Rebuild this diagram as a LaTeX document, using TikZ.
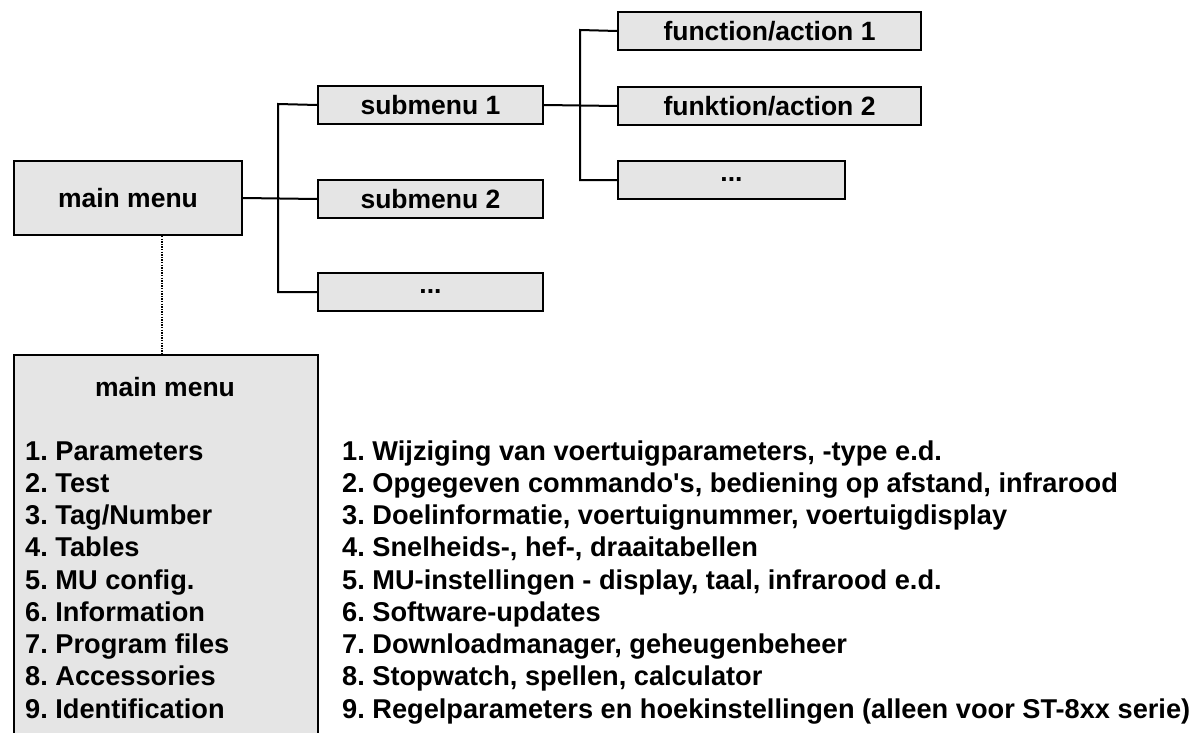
\documentclass[tikz,border=0pt]{standalone}
\usepackage{fontspec}
\setmainfont{Liberation Sans}[Ligatures=TeXOff]
\frenchspacing
\definecolor{boxgray}{HTML}{E5E5E5}
\begin{document}
\begin{tikzpicture}[x=1pt,y=-1pt,
  every node/.style={font=\fontsize{26.5}{31}\selectfont\bfseries\frenchspacing},
  menubox/.style={draw=black, line width=2pt, fill=boxgray, inner sep=0pt, anchor=north west},
  conn/.style={line width=2pt},
  listitem/.style={anchor=base west, inner sep=0pt, font=\fontsize{27.2}{31}\selectfont\bfseries\frenchspacing}]
\useasboundingbox (0,0) rectangle (1194,733);
\clip (0,0) rectangle (1194,733);
% main menu and submenus
\node[menubox, minimum width=228pt, minimum height=74pt] (main) at (13,160) {main menu};
\node[menubox, minimum width=225pt, minimum height=38pt] (sub1) at (317,85) {submenu 1};
\node[menubox, minimum width=225pt, minimum height=38pt] (sub2) at (317,179) {submenu 2};
\node[menubox, minimum width=225pt, minimum height=38pt] (sub3) at (317,272) {...};
% functions
\node[menubox, minimum width=303pt, minimum height=38pt] (f1) at (617,11) {function/action 1};
\node[menubox, minimum width=303pt, minimum height=38pt] (f2) at (617,86) {funktion/action 2};
\node[menubox, minimum width=227pt, minimum height=38pt] (f3) at (617,160) {...};
% connectors
\coordinate (j1) at (278,104);
\coordinate (j2) at (580,30);
\draw[conn] (main.east) -- (sub2.west);
\draw[conn] (sub1.west) -- (j1) |- (sub3.west);
\draw[conn] (sub1.east) -- (f2.west);
\draw[conn] (f1.west) -- (j2) |- (f3.west);
% bottom list box
\node[menubox, minimum width=304pt, minimum height=420pt] (list) at (13,354) {};
\coordinate (bt) at (162,354);
\draw[line width=1.3pt, dash pattern=on 1.3pt off 1.3pt] (main.south -| bt) -- (list.north -| bt);
\node (listtitle) at (165,387) {main menu};
\node[listitem] (m1) at (25,460) {1. Parameters};
\node[listitem] (m2) at (25,492.25) {2. Test};
\node[listitem] (m3) at (25,524.5) {3. Tag/Number};
\node[listitem] (m4) at (25,556.75) {4. Tables};
\node[listitem] (m5) at (25,589) {5. MU config.};
\node[listitem] (m6) at (25,621.25) {6. Information};
\node[listitem] (m7) at (25,653.5) {7. Program files};
\node[listitem] (m8) at (25,685.75) {8. Accessories};
\node[listitem] (m9) at (25,718) {9. Identification};
% descriptions
\node[listitem] (d1) at (342,460) {1. Wijziging van voertuigparameters, -type e.d.};
\node[listitem] (d2) at (342,492.25) {2. Opgegeven commando's, bediening op afstand, infrarood};
\node[listitem] (d3) at (342,524.5) {3. Doelinformatie, voertuignummer, voertuigdisplay};
\node[listitem] (d4) at (342,556.75) {4. Snelheids-, hef-, draaitabellen};
\node[listitem] (d5) at (342,589) {5. MU-instellingen - display, taal, infrarood e.d.};
\node[listitem] (d6) at (342,621.25) {6. Software-updates};
\node[listitem] (d7) at (342,653.5) {7. Downloadmanager, geheugenbeheer};
\node[listitem] (d8) at (342,685.75) {8. Stopwatch, spellen, calculator};
\node[listitem] (d9) at (342,718) {9. Regelparameters en hoekinstellingen (alleen voor ST-8xx serie)};
\end{tikzpicture}
\end{document}
